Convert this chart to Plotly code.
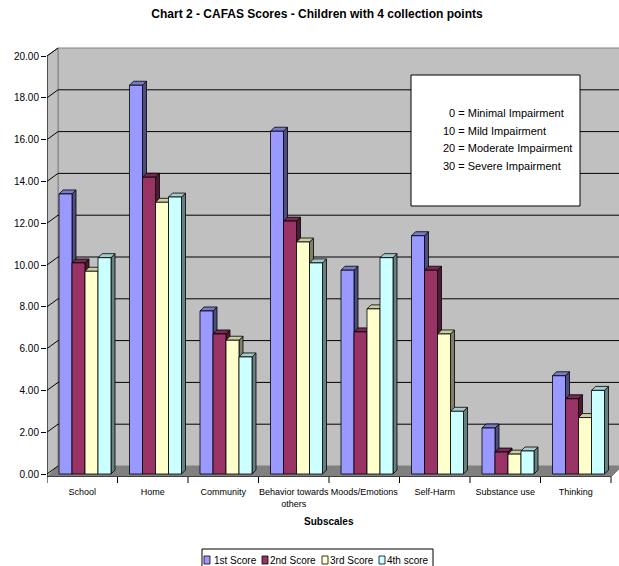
import plotly.graph_objects as go

# ---- data -------------------------------------------------------------
subscales = ["School", "Home", "Community", "Behavior towards<br>others",
             "Moods/Emotions", "Self-Harm", "Substance use", "Thinking"]
series_names = ["1st Score", "2nd Score", "3rd Score", "4th score"]
score1 = [13.4, 18.6, 7.8, 16.4, 9.75, 11.4, 2.2, 4.7]
score2 = [10.1, 14.2, 6.7, 12.1, 6.8, 9.75, 1.05, 3.6]
score3 = [9.7, 13.0, 6.4, 11.1, 7.9, 6.7, 0.95, 2.7]
score4 = [10.35, 13.25, 5.6, 10.1, 10.35, 3.0, 1.1, 4.0]
y_ticks = [0, 2, 4, 6, 8, 10, 12, 14, 16, 18, 20]
key_lines = ["\u00a0\u00a00 = Minimal Impairment", "10 = Mild Impairment",
             "20 = Moderate Impairment", "30 = Severe Impairment"]

series = [score1, score2, score3, score4]
front_colors = ["#9999ff", "#993366", "#ffffcc", "#ccffff"]
top_colors = ["#7a7acc", "#7a2952", "#cccca3", "#a3cccc"]
side_colors = ["#4d4d80", "#4d1a33", "#80806a", "#668080"]

# ---- geometry ---------------------------------------------------------
W, H = 619, 566
ML, MR, MT, MB = 47, 0, 46, 89
PW, PH = W - ML - MR, H - MT - MB
CAT_W = 70.5                       # pixels per category
PX_Y = 20.9                        # pixels per score unit
X_LO = -0.5
X_HI = X_LO + PW / CAT_W
Y_LO = -3 / PX_Y
Y_HI = Y_LO + PH / PX_Y


def ddx(p):
    return p / CAT_W


def ddy(p):
    return p / PX_Y


def paper_x(p):
    return (p - ML) / PW


def paper_y(p):
    return (H - MB - p) / PH


DEPTH_X, BACK_UP = 11, 8           # wall depth
BAR_W = ddx(13)
BAR_START = X_LO + ddx(12)
FACE = 4                           # column depth in pixels
n_cat = len(subscales)
cats = list(range(n_cat))

shapes = []
line_blk = dict(color="black", width=1)
wall_line = dict(color="#808080", width=1)

# floor
floor_back = Y_LO + ddy(11)
shapes.append(dict(type="path", xref="x", yref="y", layer="below",
                   path=f"M {X_LO},{Y_LO} L {n_cat - 0.5},{Y_LO} "
                        f"L {n_cat - 0.5 + ddx(DEPTH_X)},{floor_back} "
                        f"L {X_LO + ddx(DEPTH_X)},{floor_back} Z",
                   fillcolor="#808080", line=wall_line))
# back wall
wall_top = y_ticks[-1] + ddy(BACK_UP)
shapes.append(dict(type="rect", xref="x", yref="y", layer="below",
                   x0=X_LO + ddx(DEPTH_X), x1=X_HI + 1, y0=floor_back, y1=wall_top,
                   fillcolor="#c0c0c0", line=wall_line))
# left wall
shapes.append(dict(type="path", xref="x", yref="y", layer="below",
                   path=f"M {X_LO},{Y_LO} L {X_LO},{y_ticks[-1]} "
                        f"L {X_LO + ddx(DEPTH_X)},{wall_top} "
                        f"L {X_LO + ddx(DEPTH_X)},{floor_back} Z",
                   fillcolor="#c0c0c0", line=wall_line))
# gridlines: slant on the side wall, horizontal on the back wall
for v in y_ticks:
    shapes.append(dict(type="line", xref="x", yref="y", layer="below",
                       x0=X_LO, y0=v, x1=X_LO + ddx(DEPTH_X), y1=v + ddy(BACK_UP),
                       line=line_blk))
    if 0 < v < y_ticks[-1]:
        shapes.append(dict(type="line", xref="x", yref="y", layer="below",
                           x0=X_LO + ddx(DEPTH_X), y0=v + ddy(BACK_UP),
                           x1=X_HI + 1, y1=v + ddy(BACK_UP), line=line_blk))

# top and side faces of every column
fx, fy = ddx(FACE), ddy(FACE)
for c in cats:
    for k, vals in enumerate(series):
        v = vals[c]
        xl = c + BAR_START + k * BAR_W
        xr = xl + BAR_W
        shapes.append(dict(type="path", xref="x", yref="y", layer="below",
                           path=f"M {xr},0 L {xr + fx},{fy} L {xr + fx},{v + fy} L {xr},{v} Z",
                           fillcolor=side_colors[k], line=dict(color="black", width=0.8)))
        shapes.append(dict(type="path", xref="x", yref="y", layer="below",
                           path=f"M {xl},{v} L {xl + fx},{v + fy} L {xr + fx},{v + fy} L {xr},{v} Z",
                           fillcolor=top_colors[k], line=dict(color="black", width=0.8)))

# axis lines and category boundary ticks
shapes.append(dict(type="line", xref="x", yref="y", x0=X_LO, x1=X_LO,
                   y0=Y_LO, y1=y_ticks[-1], line=line_blk))
shapes.append(dict(type="line", xref="x", yref="y", x0=X_LO, x1=n_cat - 0.5,
                   y0=Y_LO, y1=Y_LO, line=line_blk))
for i in range(n_cat + 1):
    shapes.append(dict(type="line", xref="x", yref="paper", x0=i - 0.5, x1=i - 0.5,
                       y0=0, y1=paper_y(H - MB + 6), line=line_blk))

# impairment key box
shapes.append(dict(type="rect", xref="paper", yref="paper",
                   x0=paper_x(411), x1=paper_x(580), y0=paper_y(206), y1=paper_y(75),
                   fillcolor="white", line=dict(color="black", width=1)))

# legend box and swatches
shapes.append(dict(type="rect", xref="paper", yref="paper",
                   x0=paper_x(202), x1=paper_x(433), y0=paper_y(568), y1=paper_y(549),
                   fillcolor="white", line=dict(color="black", width=1)))
swatch_x = [204, 262, 322, 379]
label_x = [212, 268, 328, 385]
annotations = []
for k in range(4):
    shapes.append(dict(type="rect", xref="paper", yref="paper",
                       x0=paper_x(swatch_x[k]), x1=paper_x(swatch_x[k] + 6),
                       y0=paper_y(564), y1=paper_y(556),
                       fillcolor=front_colors[k], line=dict(color="black", width=0.8)))
    annotations.append(dict(text=series_names[k], xref="paper", yref="paper",
                            x=paper_x(label_x[k]), y=paper_y(560), xanchor="left",
                            yanchor="middle", showarrow=False,
                            font=dict(size=10, color="black")))

key_y = [113, 131, 148, 166]
for line, yy in zip(key_lines, key_y):
    annotations.append(dict(text=line, xref="paper", yref="paper",
                            x=paper_x(441), y=paper_y(yy), xanchor="left",
                            yanchor="middle", showarrow=False,
                            font=dict(size=11, color="black")))

annotations.append(dict(text="<b>Subscales</b>", xref="paper", yref="paper",
                        x=paper_x(329), y=paper_y(521), xanchor="center",
                        yanchor="middle", showarrow=False,
                        font=dict(size=10, color="black")))

# ---- figure -----------------------------------------------------------
fig = go.Figure()
for k, vals in enumerate(series):
    fig.add_trace(go.Bar(
        x=cats, y=vals, name=series_names[k],
        width=BAR_W, offset=BAR_START + k * BAR_W,
        marker=dict(color=front_colors[k], line=dict(color="black", width=0.8)),
        showlegend=False,
    ))

fig.update_layout(
    width=W, height=H,
    margin=dict(l=ML, r=MR, t=MT, b=MB),
    paper_bgcolor="white", plot_bgcolor="white",
    font=dict(family="Liberation Sans, Arial, sans-serif", color="black"),
    barmode="overlay",
    title=dict(text="<b>Chart 2 - CAFAS Scores - Children with 4 collection points</b>",
               x=317 / W, y=1 - 14 / H, xanchor="center", yanchor="middle",
               font=dict(size=12, color="black")),
    xaxis=dict(range=[X_LO, X_HI], tickvals=cats, ticktext=subscales,
               ticks="", showgrid=False, zeroline=False, showline=False,
               tickangle=0, tickfont=dict(size=9, color="black"),
               ticklabelstandoff=8),
    yaxis=dict(range=[Y_LO, Y_HI], tickvals=y_ticks,
               ticktext=[f"{v:.2f}" for v in y_ticks],
               ticks="outside", ticklen=5, tickcolor="black",
               showgrid=False, zeroline=False, showline=False,
               tickfont=dict(size=10, color="black")),
    shapes=shapes,
    annotations=annotations,
)

fig.write_html("out.html")
